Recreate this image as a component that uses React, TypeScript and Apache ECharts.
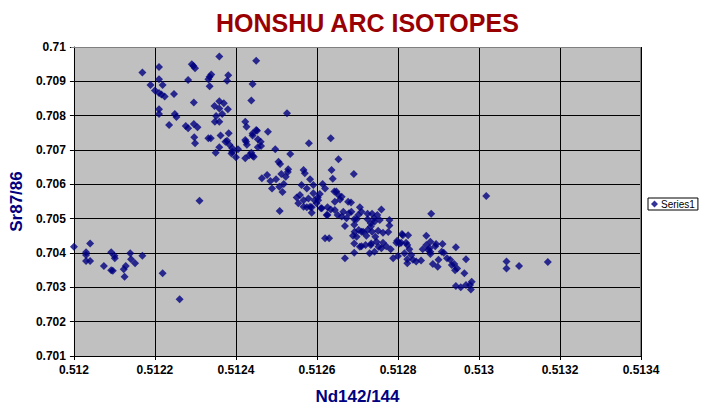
import React, { useEffect, useRef } from "react";
import * as echarts from "echarts";

// [Nd142/144, Sr87/86]
const westCluster: number[][] = [
  [0.512000, 0.70418], [0.512030, 0.70402], [0.512030, 0.70394], [0.512040, 0.70428], [0.512030, 0.70377],
  [0.512040, 0.70377], [0.512074, 0.70362], [0.512092, 0.70402], [0.512100, 0.70392], [0.512101, 0.70385],
  [0.512092, 0.70350], [0.512096, 0.70348], [0.512123, 0.70353], [0.512128, 0.70362], [0.512125, 0.70331],
  [0.512139, 0.70399], [0.512141, 0.70382], [0.512151, 0.70370], [0.512169, 0.70392], [0.512219, 0.70341],
  [0.512261, 0.70265],
];

const outliers: number[][] = [
  [0.512310, 0.70552], [0.513018, 0.70566], [0.513068, 0.70375], [0.513068, 0.70355], [0.513099, 0.70362],
  [0.513170, 0.70374],
];

const highSrGroup: number[][] = [
  [0.512169, 0.70926], [0.512210, 0.70942], [0.512189, 0.70889], [0.512210, 0.70906], [0.512219, 0.70889],
  [0.512200, 0.70873], [0.512210, 0.70866], [0.512216, 0.70862], [0.512224, 0.70856], [0.512247, 0.70863],
  [0.512210, 0.70819], [0.512210, 0.70805], [0.512249, 0.70805], [0.512253, 0.70796], [0.512235, 0.70773],
  [0.512359, 0.70972], [0.512450, 0.70960], [0.512291, 0.70950], [0.512295, 0.70945], [0.512299, 0.70938],
  [0.512282, 0.70904], [0.512339, 0.70920], [0.512335, 0.70913], [0.512332, 0.70906], [0.512381, 0.70918],
  [0.512378, 0.70902], [0.512335, 0.70886], [0.512441, 0.70892], [0.512296, 0.70838], [0.512438, 0.70844],
  [0.512359, 0.70842], [0.512347, 0.70828], [0.512359, 0.70821], [0.512380, 0.70819], [0.512366, 0.70805],
  [0.512370, 0.70836], [0.512351, 0.70799], [0.512348, 0.70782], [0.512359, 0.70782], [0.512423, 0.70782],
  [0.512426, 0.70768], [0.512479, 0.70753], [0.512276, 0.70770], [0.512282, 0.70763], [0.512296, 0.70776],
  [0.512305, 0.70766], [0.512382, 0.70749], [0.512362, 0.70742], [0.512450, 0.70758], [0.512441, 0.70748],
  [0.512441, 0.70742], [0.512454, 0.70731], [0.512461, 0.70724], [0.512454, 0.70708], [0.512297, 0.70737],
  [0.512299, 0.70720], [0.512332, 0.70734], [0.512338, 0.70734], [0.512378, 0.70727], [0.512384, 0.70715],
  [0.512391, 0.70705], [0.512359, 0.70708], [0.512350, 0.70692], [0.512389, 0.70690], [0.512405, 0.70702],
  [0.512400, 0.70679], [0.512423, 0.70729], [0.512427, 0.70715], [0.512423, 0.70676], [0.512433, 0.70685],
  [0.512441, 0.70683], [0.512526, 0.70807], [0.512374, 0.70724], [0.512391, 0.70695], [0.512425, 0.70724],
  [0.512452, 0.70756], [0.512462, 0.70712], [0.512438, 0.70692], [0.512444, 0.70680],
];

const middleArc: number[][] = [
  [0.512497, 0.70702], [0.512534, 0.70688], [0.512580, 0.70720], [0.512634, 0.70734], [0.512653, 0.70673],
  [0.512505, 0.70666], [0.512509, 0.70659], [0.512529, 0.70644], [0.512528, 0.70636], [0.512464, 0.70618],
  [0.512477, 0.70627], [0.512485, 0.70610], [0.512499, 0.70615], [0.512512, 0.70630], [0.512523, 0.70622],
  [0.512518, 0.70601], [0.512507, 0.70593], [0.512489, 0.70588], [0.512515, 0.70578], [0.512567, 0.70642],
  [0.512570, 0.70632], [0.512583, 0.70615], [0.512562, 0.70598], [0.512575, 0.70588], [0.512591, 0.70598],
  [0.512614, 0.70601], [0.512620, 0.70588], [0.512636, 0.70642], [0.512639, 0.70616], [0.512643, 0.70579],
  [0.512653, 0.70569], [0.512558, 0.70569], [0.512550, 0.70562], [0.512554, 0.70545], [0.512567, 0.70535],
  [0.512583, 0.70535], [0.512594, 0.70554], [0.512602, 0.70562], [0.512607, 0.70572], [0.512599, 0.70545],
  [0.512612, 0.70530], [0.512587, 0.70517], [0.512624, 0.70511], [0.512508, 0.70522], [0.512691, 0.70630],
  [0.512567, 0.70554], [0.512579, 0.70559], [0.512591, 0.70574], [0.512603, 0.70554], [0.512575, 0.70533],
  [0.512587, 0.70533], [0.512610, 0.70530], [0.512648, 0.70579], [0.512657, 0.70556], [0.512661, 0.70564],
  [0.512644, 0.70549], [0.512677, 0.70549], [0.512684, 0.70547], [0.512626, 0.70533], [0.512634, 0.70527],
  [0.512626, 0.70511], [0.512644, 0.70525], [0.512651, 0.70511], [0.512661, 0.70506], [0.512665, 0.70520],
  [0.512679, 0.70516], [0.512685, 0.70520], [0.512706, 0.70533], [0.512710, 0.70520], [0.512725, 0.70514],
  [0.512669, 0.70479], [0.512692, 0.70482], [0.512698, 0.70498], [0.512702, 0.70511], [0.512736, 0.70514],
  [0.512759, 0.70527], [0.512749, 0.70511], [0.512741, 0.70501], [0.512755, 0.70496], [0.512779, 0.70496],
  [0.512779, 0.70480], [0.512776, 0.70461], [0.512620, 0.70443], [0.512630, 0.70443],
];

const lowerArc: number[][] = [
  [0.512693, 0.70462], [0.512689, 0.70450], [0.512703, 0.70467], [0.512714, 0.70462], [0.512722, 0.70450],
  [0.512733, 0.70477], [0.512736, 0.70462], [0.512751, 0.70465], [0.512744, 0.70447], [0.512763, 0.70459],
  [0.512692, 0.70428], [0.512710, 0.70420], [0.512733, 0.70423], [0.512752, 0.70418], [0.512771, 0.70420],
  [0.512798, 0.70436], [0.512804, 0.70428], [0.512812, 0.70452], [0.512820, 0.70430], [0.512825, 0.70452],
  [0.512882, 0.70514], [0.512673, 0.70501], [0.512733, 0.70487], [0.512742, 0.70491], [0.512725, 0.70498],
  [0.512725, 0.70467], [0.512720, 0.70423], [0.512692, 0.70401], [0.512730, 0.70399], [0.512742, 0.70404],
  [0.512759, 0.70414], [0.512763, 0.70430], [0.512782, 0.70411], [0.512788, 0.70385], [0.512669, 0.70385],
  [0.512810, 0.70455], [0.512796, 0.70430], [0.512808, 0.70430], [0.512823, 0.70423], [0.512828, 0.70411],
  [0.512816, 0.70399], [0.512800, 0.70391], [0.512823, 0.70382], [0.512833, 0.70394], [0.512823, 0.70370],
  [0.512837, 0.70380], [0.512845, 0.70375], [0.512857, 0.70378], [0.512861, 0.70411], [0.512870, 0.70423],
  [0.512878, 0.70414], [0.512880, 0.70433], [0.512870, 0.70450], [0.512894, 0.70426], [0.512910, 0.70426],
  [0.512880, 0.70404], [0.512913, 0.70401], [0.512943, 0.70417], [0.512886, 0.70368], [0.512900, 0.70380],
  [0.512898, 0.70360], [0.512921, 0.70385], [0.512929, 0.70380], [0.512939, 0.70368], [0.512946, 0.70355],
  [0.512968, 0.70382], [0.512964, 0.70341], [0.512943, 0.70304], [0.512955, 0.70300], [0.512968, 0.70307],
  [0.512978, 0.70307], [0.512982, 0.70316], [0.512980, 0.70294], [0.512892, 0.70420], [0.512875, 0.70409],
  [0.512880, 0.70397], [0.512908, 0.70404], [0.512933, 0.70365], [0.512941, 0.70350], [0.512706, 0.70418],
  [0.512747, 0.70433], [0.512734, 0.70428], [0.512698, 0.70447], [0.512692, 0.70498], [0.512710, 0.70462],
];

const seriesName = "Series1";
const chartTitle = "HONSHU ARC ISOTOPES";
const xAxisTitle = "Nd142/144";
const yAxisTitle = "Sr87/86";
const xMin = 0.512, xMax = 0.5134, xStep = 0.0002;
const yMin = 0.701, yMax = 0.71, yStep = 0.001;

const FONT = "'Liberation Sans', Arial, sans-serif";

export default function App() {
  const ref = useRef<HTMLDivElement>(null);
  useEffect(() => {
    document.body.style.margin = "0";
    if (!ref.current) return;
    const chart = echarts.init(ref.current, undefined, { renderer: "svg" });
    const gl = 71, gt = 47, gw = 570, gh = 309;
    chart.setOption({
      animation: false,
      backgroundColor: "#ffffff",
      title: {
        text: chartTitle,
        left: 216,
        top: 10,
        padding: 0,
        textStyle: { fontFamily: FONT, fontSize: 25, fontWeight: "bold", color: "#990000" },
      },
      legend: {
        data: [seriesName],
        left: 648,
        top: 198,
        padding: [1, 3, 1, 3],
        borderColor: "#000000",
        borderWidth: 1,
        backgroundColor: "#ffffff",
        itemWidth: 7,
        itemHeight: 7,
        itemGap: 2,
        textStyle: { fontFamily: FONT, fontSize: 10, color: "#000000", padding: [0, 0, 0, -2] },
      },
      grid: { left: gl, top: gt, width: gw, height: gh, show: true, backgroundColor: "#c0c0c0", borderWidth: 0 },
      xAxis: {
        type: "value",
        min: xMin,
        max: xMax,
        interval: xStep,
        name: xAxisTitle,
        nameLocation: "middle",
        nameGap: 32,
        nameTextStyle: { fontFamily: FONT, fontSize: 17, fontWeight: "bold", color: "#000080" },
        axisLine: { show: true, onZero: false, lineStyle: { color: "#000000", width: 1 } },
        axisTick: { show: true, length: 4, lineStyle: { color: "#000000" } },
        splitLine: { show: true, lineStyle: { color: "#000000", width: 1 } },
        axisLabel: {
          margin: 8,
          fontFamily: FONT,
          fontSize: 12,
          fontWeight: "bold",
          color: "#000000",
          formatter: (v: number) => String(+v.toFixed(4)),
        },
      },
      yAxis: {
        type: "value",
        min: yMin,
        max: yMax,
        interval: yStep,
        name: yAxisTitle,
        nameLocation: "middle",
        nameGap: 43,
        nameTextStyle: { fontFamily: FONT, fontSize: 17, fontWeight: "bold", color: "#000080" },
        axisLine: { show: true, onZero: false, lineStyle: { color: "#000000", width: 1 } },
        axisTick: { show: true, length: 4, lineStyle: { color: "#000000" } },
        splitLine: { show: true, lineStyle: { color: "#000000", width: 1 } },
        axisLabel: {
          margin: 8,
          fontFamily: FONT,
          fontSize: 12,
          fontWeight: "bold",
          color: "#000000",
          formatter: (v: number) => String(+v.toFixed(3)),
        },
      },
      graphic: [
        { type: "line", z: 100, shape: { x1: gl, y1: gt + 0.5, x2: gl + gw, y2: gt + 0.5 }, style: { stroke: "#808080", lineWidth: 1 } },
        { type: "line", z: 100, shape: { x1: gl + gw - 0.5, y1: gt, x2: gl + gw - 0.5, y2: gt + gh }, style: { stroke: "#808080", lineWidth: 1 } },
      ],
      series: [
        {
          name: seriesName,
          type: "scatter",
          symbol: "diamond",
          symbolSize: 8,
          itemStyle: { color: "#000080" },
          data: [...westCluster, ...highSrGroup, ...middleArc, ...lowerArc, ...outliers],
        },
      ],
    });
    return () => chart.dispose();
  }, []);
  return <div ref={ref} style={{ width: 708, height: 413 }} />;
}
